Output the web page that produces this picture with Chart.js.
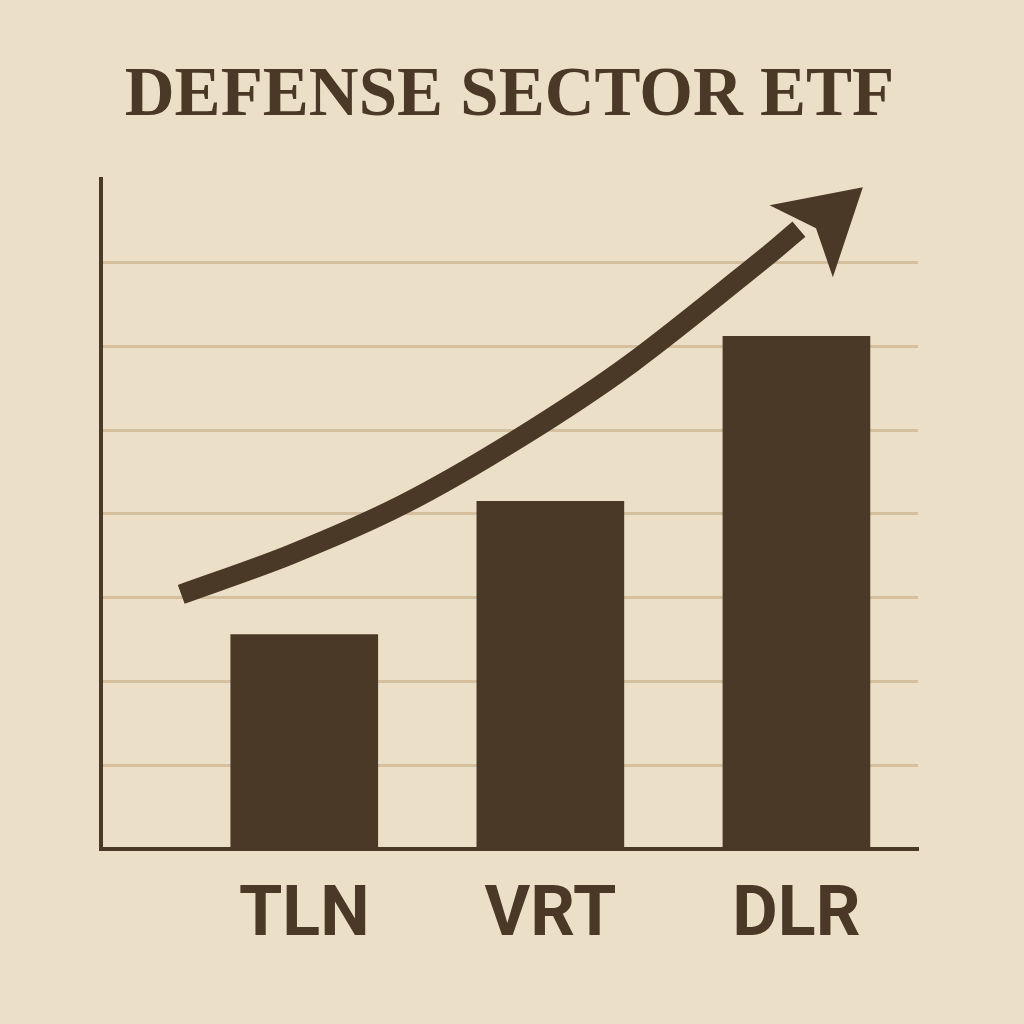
<!DOCTYPE html>
<html>
<head>
<meta charset="utf-8">
<script src="https://cdn.jsdelivr.net/npm/chart.js@4"></script>
<style>
    html, body { margin: 0; padding: 0; background: #ecdfc7; }
    #wrap { width: 1024px; height: 1024px; }
</style>
</head>
<body>
<div id="wrap"><canvas id="etfChart" width="1024" height="1024"></canvas></div>
<script>
// Dados do gráfico
const tickers = ['TLN', 'VRT', 'DLR'];
const values = [2.56, 4.15, 6.12];
const gridTicks = [0, 1, 2, 3, 4, 5, 6, 7, 8];

// Seta de tendência (último ponto = ponta da seta)
const arrowX = [0.50, 0.94, 1.40, 1.87, 2.33, 2.89, 3.01, 3.27];
const arrowY = [3.04, 3.51, 4.11, 4.90, 5.80, 7.10, 7.40, 7.90];

const BROWN = '#4a3927';
const GRID = '#d4c09f';

// Ponta da seta desenhada no fim da linha
const arrowHead = {
    id: 'arrowHead',
    afterDatasetsDraw(chart) {
        const meta = chart.getDatasetMeta(1);
        const pts = meta.data;
        const last = pts[pts.length - 1];
        const sx = chart.scales.x, sy = chart.scales.y;
        const tx = sx.getPixelForValue(arrowX[arrowX.length - 1]);
        const ty = sy.getPixelForValue(arrowY[arrowY.length - 1]);
        const ang = Math.atan2(ty - last.y, tx - last.x) - 0.14;
        const dx = Math.cos(ang), dy = Math.sin(ang);
        const L = 82, W = 48;
        const bx = tx - dx * L, by = ty - dy * L;
        const nx = -dy, ny = dx;
        const c = chart.ctx;
        c.save();
        c.fillStyle = BROWN;
        c.beginPath();
        c.moveTo(tx, ty);
        c.lineTo(bx + nx * W, by + ny * W);
        c.lineTo(tx - dx * L * 0.76, ty - dy * L * 0.76);
        c.lineTo(bx - nx * W, by - ny * W);
        c.closePath();
        c.fill();
        c.restore();
    }
};

new Chart(document.getElementById('etfChart'), {
    type: 'bar',
    data: {
        datasets: [{
            type: 'bar',
            data: values.map((v, i) => ({ x: i + 1, y: v })),
            backgroundColor: BROWN,
            barThickness: 147,
            order: 2
        }, {
            type: 'line',
            data: arrowX.slice(0, -1).map((x, i) => ({ x: x, y: arrowY[i] })),
            borderColor: BROWN,
            borderWidth: 20,
            borderCapStyle: 'butt',
            tension: 0.3,
            pointRadius: 0,
            fill: false,
            order: 1
        }]
    },
    options: {
        responsive: false,
        animation: false,
        layout: { padding: { left: 101, right: 106, top: 0, bottom: 39 } },
        plugins: {
            legend: { display: false },
            tooltip: { enabled: false },
            title: {
                display: true,
                text: 'DEFENSE SECTOR ETF',
                color: BROWN,
                font: { family: 'Liberation Serif', size: 69, weight: 'bold' },
                padding: { top: 56, bottom: 40 }
            }
        },
        scales: {
            x: {
                type: 'linear',
                offset: false,
                min: 0.174,
                max: 3.494,
                afterBuildTicks: scale => {
                    scale.ticks = tickers.map((t, i) => ({ value: i + 1 }));
                },
                ticks: {
                    callback: v => tickers[Math.round(v) - 1] || '',
                    color: BROWN,
                    font: { family: 'Roboto', size: 70, weight: 'bold' },
                    padding: 26,
                    maxRotation: 0,
                    autoSkip: false
                },
                grid: { display: false, drawTicks: false, offset: false },
                border: { display: true, color: BROWN, width: 4 }
            },
            y: {
                min: 0,
                max: 8,
                afterBuildTicks: scale => {
                    scale.ticks = gridTicks.map(v => ({ value: v }));
                },
                ticks: { display: false },
                grid: {
                    drawTicks: false,
                    lineWidth: 3,
                    color: ctx => (ctx.tick && (ctx.tick.value === 0 || ctx.tick.value === 8)) ? 'rgba(0,0,0,0)' : GRID
                },
                border: { display: true, color: BROWN, width: 4 }
            }
        }
    },
    plugins: [arrowHead]
});
</script>
</body>
</html>
